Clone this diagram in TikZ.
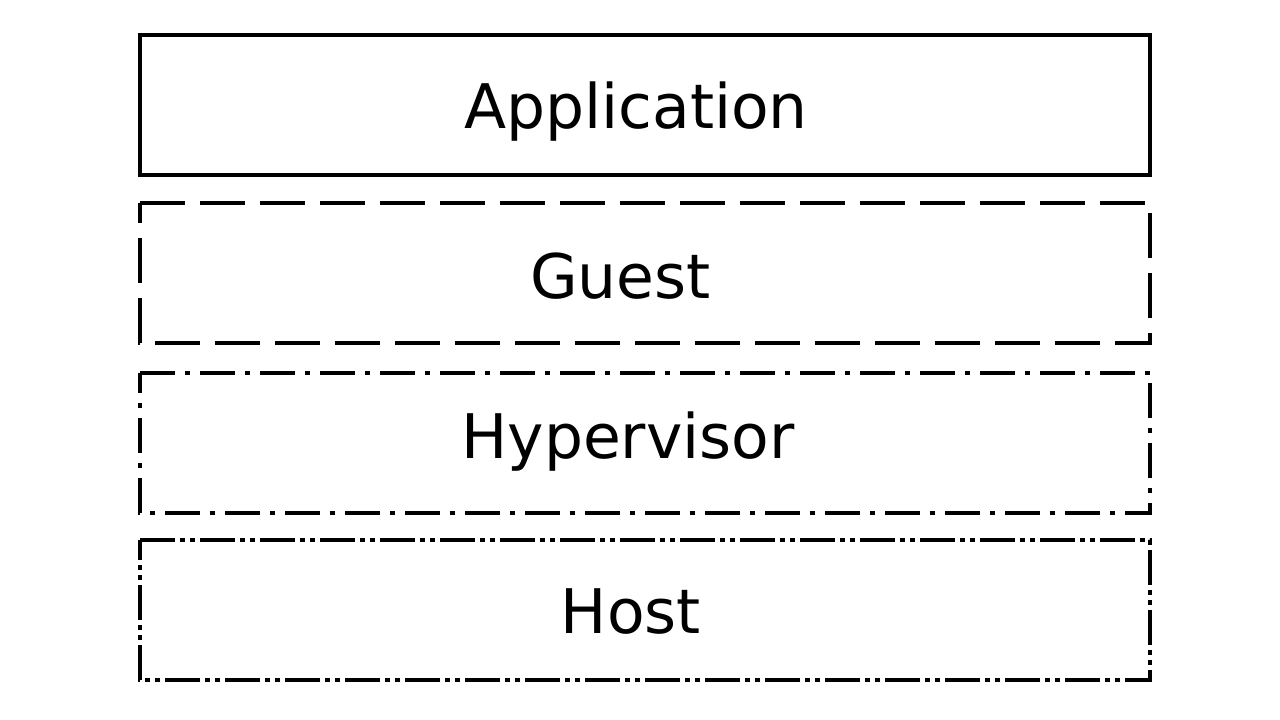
\documentclass[tikz,border=0pt]{standalone}
\usepackage{fontspec}
\setmainfont{DejaVu Sans}
\begin{document}
\begin{tikzpicture}[x=1pt,y=-1pt,
  layer/.style={line width=4pt,line join=miter},
  lbl/.style={anchor=base,inner sep=0pt,font=\fontsize{61.5}{61.5}\selectfont}]
\useasboundingbox (0,0) rectangle (1280,720);
% Application
\coordinate (a1) at (140,35); \coordinate (a2) at (1150,175);
\draw[layer] (a1) -- (a2 |- a1) -- (a2) -- (a1 |- a2) -- cycle;
\node[lbl] (app) at (636,128) {Application};
% Guest
\coordinate (g1) at (140,203); \coordinate (g2) at (1150,343);
\draw[layer,dash pattern=on 45pt off 15pt] (g1) -- (g2 |- g1) -- (g2) -- (g1 |- g2) -- cycle;
\node[lbl] (guest) at (620.5,298) {Guest};
% Hypervisor
\coordinate (h1) at (140,373); \coordinate (h2) at (1150,513);
\draw[layer,dash pattern=on 35pt off 10pt on 5pt off 10pt] (h1) -- (h2 |- h1) -- (h2) -- (h1 |- h2) -- cycle;
\node[lbl] (hyp) at (628,458) {Hypervisor};
% Host
\coordinate (o1) at (140,540); \coordinate (o2) at (1150,680);
\draw[layer,dash pattern=on 35pt off 5pt on 5pt off 5pt on 5pt off 5pt] (o1) -- (o2 |- o1) -- (o2) -- (o1 |- o2) -- cycle;
\node[lbl] (host) at (631,633) {Host};
\end{tikzpicture}
\end{document}
